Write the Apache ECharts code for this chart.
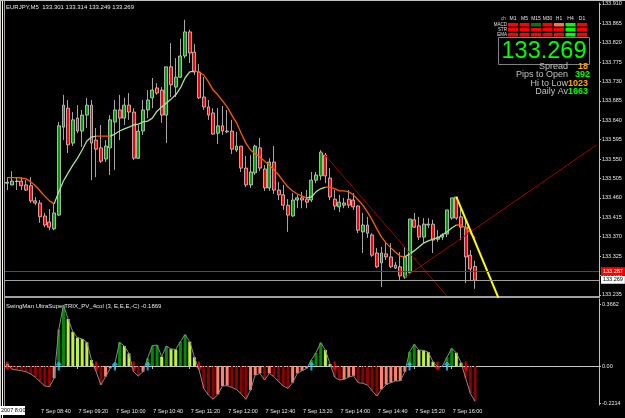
<!DOCTYPE html>
<html>
<head>
<meta charset="utf-8">
<script src="https://cdn.jsdelivr.net/npm/echarts@6/dist/echarts.min.js"></script>
<style>
html,body{margin:0;padding:0;background:#000;}
#main{width:625px;height:418px;}
</style>
</head>
<body>
<div id="main"></div>
<script>
// EURJPY M5, bars from 08:05, one every 5 minutes
var opens = [133.494,133.490,133.498,133.499,133.490,133.488,133.453,133.448,133.418,133.404,
  133.388,133.420,133.624,133.668,133.587,133.645,133.615,133.652,133.675,133.594,
  133.576,133.550,133.576,133.636,133.664,133.645,133.675,133.659,133.552,133.615,
  133.664,133.692,133.715,133.710,133.652,133.764,133.717,133.740,133.789,133.845,
  133.798,133.752,133.694,133.671,133.657,133.610,133.627,133.615,133.615,133.571,
  133.580,133.529,133.490,133.518,133.576,133.527,133.483,133.543,133.478,133.467,
  133.443,133.418,133.455,133.460,133.457,133.455,133.501,133.511,133.559,133.506,
  133.457,133.439,133.443,133.457,133.455,133.441,133.381,133.397,133.374,133.332,
  133.309,133.330,133.323,133.304,133.300,133.276,133.286,133.409,133.395,133.369,
  133.397,133.399,133.364,133.369,133.376,133.413,133.462,133.416,133.392,133.327,
  133.301];
var closes = [133.496,133.499,133.499,133.488,133.478,133.453,133.448,133.416,133.397,133.392,
  133.425,133.627,133.675,133.583,133.641,133.615,133.652,133.675,133.587,133.573,
  133.545,133.580,133.641,133.664,133.645,133.675,133.659,133.552,133.615,133.664,
  133.687,133.710,133.703,133.652,133.764,133.722,133.740,133.789,133.845,133.796,
  133.752,133.692,133.671,133.652,133.608,133.627,133.615,133.613,133.573,133.580,
  133.529,133.490,133.520,133.580,133.529,133.483,133.543,133.478,133.467,133.443,
  133.420,133.455,133.460,133.455,133.450,133.501,133.513,133.566,133.511,133.462,
  133.441,133.450,133.448,133.443,133.439,133.385,133.397,133.378,133.327,133.300,
  133.332,133.323,133.300,133.297,133.279,133.323,133.411,133.392,133.369,133.399,
  133.399,133.362,133.369,133.374,133.432,133.460,133.413,133.392,133.323,133.295,
  133.269];
var lows = [133.478,133.489,133.478,133.478,133.476,133.448,133.443,133.402,133.392,133.385,
  133.385,133.418,133.594,133.564,133.580,133.610,133.578,133.622,133.501,133.508,
  133.541,133.543,133.513,133.525,133.594,133.629,133.641,133.548,133.550,133.606,
  133.645,133.668,133.699,133.634,133.587,133.694,133.694,133.738,133.784,133.773,
  133.745,133.689,133.664,133.641,133.606,133.585,133.606,133.610,133.562,133.566,
  133.520,133.485,133.483,133.513,133.522,133.476,133.476,133.469,133.455,133.432,
  133.381,133.416,133.436,133.436,133.436,133.450,133.494,133.501,133.494,133.455,
  133.432,133.427,133.436,133.436,133.432,133.378,133.332,133.367,133.323,133.297,
  133.253,133.316,133.297,133.295,133.269,133.272,133.283,133.390,133.362,133.355,
  133.390,133.332,133.358,133.362,133.369,133.409,133.409,133.362,133.262,133.269,
  133.249];
var highs = [133.508,133.522,133.506,133.508,133.501,133.508,133.462,133.455,133.425,133.434,
  133.448,133.636,133.699,133.687,133.659,133.675,133.664,133.692,133.687,133.622,
  133.629,133.594,133.652,133.687,133.699,133.692,133.703,133.668,133.629,133.687,
  133.710,133.738,133.726,133.717,133.764,133.819,133.784,133.829,133.873,133.850,
  133.817,133.771,133.740,133.687,133.668,133.668,133.673,133.664,133.641,133.613,
  133.580,133.557,133.559,133.583,133.599,133.536,133.552,133.580,133.497,133.490,
  133.457,133.471,133.467,133.474,133.478,133.520,133.520,133.571,133.564,133.529,
  133.478,133.467,133.460,133.478,133.471,133.443,133.425,133.416,133.378,133.344,
  133.346,133.355,133.355,133.311,133.334,133.346,133.411,133.425,133.416,133.413,
  133.413,133.409,133.385,133.378,133.432,133.460,133.462,133.436,133.413,133.339,
  133.314];
// moving average drawn on the price pane
var ma = [133.507,133.507,133.507,133.506,133.504,133.497,133.488,133.476,133.464,133.453,
  133.446,133.474,133.499,133.518,133.536,133.552,133.571,133.592,133.601,133.603,
  133.603,133.603,133.603,133.608,133.615,133.620,133.624,133.629,133.631,133.636,
  133.638,133.645,133.661,133.671,133.680,133.689,133.699,133.715,133.738,133.752,
  133.754,133.752,133.745,133.729,133.710,133.699,133.685,133.671,133.652,133.634,
  133.610,133.587,133.571,133.562,133.555,133.545,133.536,133.525,133.513,133.499,
  133.485,133.476,133.469,133.464,133.460,133.462,133.474,133.481,133.485,133.485,
  133.481,133.476,133.476,133.474,133.467,133.455,133.443,133.427,133.409,133.388,
  133.369,133.355,133.344,133.334,133.325,133.323,133.330,133.337,133.346,133.355,
  133.360,133.364,133.367,133.374,133.381,133.390,133.397,133.397,133.390,133.378,
  133.367];
// SwingMan UltraSuperTRIX histogram
var trix = [0.014,-0.020,-0.024,-0.028,-0.034,-0.048,-0.067,-0.093,-0.119,-0.123,
  -0.073,0.218,0.363,0.280,0.204,0.169,0.161,0.141,0.036,-0.034,
  -0.113,-0.063,-0.014,0.016,0.141,0.119,0.075,-0.034,-0.060,-0.034,
  0.046,0.121,0.125,0.056,0.119,0.101,0.099,0.145,0.187,0.145,
  0.052,-0.024,-0.133,-0.173,-0.198,-0.169,-0.119,-0.117,-0.127,-0.140,
  -0.165,-0.198,-0.143,-0.054,-0.044,-0.083,-0.044,-0.063,-0.093,-0.119,
  -0.133,-0.099,-0.044,-0.028,-0.014,0.036,0.079,0.139,0.095,0.012,
  -0.067,-0.083,-0.079,-0.066,-0.058,-0.099,-0.103,-0.113,-0.147,-0.179,
  -0.139,-0.111,-0.099,-0.089,-0.088,-0.034,0.085,0.129,0.095,0.093,
  0.083,0.026,-0.004,-0.002,0.052,0.105,0.079,0.020,-0.073,-0.163,
  -0.210];
var upArrows = [11,23,30,65,86,94];
var downArrows = [0,19,27,41,70,92,98];
// trend lines: [bar index, price]
var trendA = [[67,133.571],[94,133.232]];
var trendB = [[85,133.276],[126,133.583]];
var trendC = [[96,133.462],[105,133.228]];
var askPrice = 133.287;
var bidPrice = 133.269;
var priceTicks = [133.235,133.280,133.325,133.370,133.415,133.460,133.505,133.550,
  133.595,133.640,133.685,133.730,133.775,133.820,133.865,133.910];
var trixTicks = [-0.2214,0,0.3662];

var slots = 127;
var times = [];
for (var i = 0; i < slots; i++) {
  var t = 8 * 60 + 5 + 5 * i;
  var hh = Math.floor(t / 60), mm = t % 60;
  times.push('7 Sep ' + (hh < 10 ? '0' : '') + hh + ':' + (mm < 10 ? '0' : '') + mm);
}

var candles = [];
for (var i = 0; i < opens.length; i++) {
  candles.push([opens[i], closes[i], lows[i], highs[i]]);
}

var maUp = [], maDn = [];
for (var i = 0; i < ma.length; i++) { maUp.push('-'); maDn.push('-'); }
for (var i = 1; i < ma.length; i++) {
  var tgt = ma[i] > ma[i - 1] ? maUp : maDn;
  tgt[i - 1] = ma[i - 1];
  tgt[i] = ma[i];
}

var bars = trix.map(function (v, i) {
  var p = i > 0 ? trix[i - 1] : v;
  var c;
  if (v >= 0) c = (i === 0 || v < p) ? '#c0f040' : '#008c00';
  else c = v <= p ? '#8b0000' : '#ff7f6a';
  return { value: v, itemStyle: { color: c } };
});

var showLabel = function (idx) {
  return idx >= 7 && idx <= 100 && (idx - 7) % 8 === 0;
};

var fontF = '"Liberation Sans", Arial, sans-serif';
var upPath = 'path://M5 0 L10 5 L6.5 5 L6.5 12 L3.5 12 L3.5 5 L0 5 Z';

// small status table in the corner
var tfs = ['M1', 'M5', 'M15', 'M30', 'H1', 'H4', 'D1'];
var rowNames = ['MACD', 'STR', 'EMA'];
var cellColors = [
  ['#ff0000', '#ff0000', '#007a00', '#ff0000', '#ff7050', '#00ff00', '#ff0000'],
  ['#ff0000', '#ff0000', '#ff0000', '#ff0000', '#ff0000', '#00ff00', '#ff0000'],
  ['#ff0000', '#ff0000', '#ff0000', '#ff0000', '#ff0000', '#00ff00', '#ff0000']
];
var graphics = [
  { type: 'rect', shape: { x: 0, y: 0, width: 1, height: 418 }, style: { fill: '#d4d0c8' } },
  { type: 'rect', shape: { x: 2, y: 0, width: 1, height: 418 }, style: { fill: '#ffffff' } },
  { type: 'rect', shape: { x: 4, y: 0, width: 1, height: 406 }, style: { fill: '#a0a0a0' } },
  { type: 'rect', shape: { x: 0, y: 0, width: 625, height: 1 }, style: { fill: '#c0c0c0' } },
  { type: 'rect', shape: { x: 5, y: 296, width: 595, height: 2 }, style: { fill: '#a0a0a0' } },
  { type: 'text', x: 6, y: 4, style: { text: 'EURJPY,M5  133.301 133.314 133.249 133.269', fill: '#e8e8e8', font: '6px ' + fontF } },
  { type: 'text', x: 6, y: 303, style: { text: 'SwingMan UltraSuperTRIX_PV_4col (3, E,E,E,-C) -0.1869', fill: '#e8e8e8', font: '6px ' + fontF } },
  { type: 'rect', shape: { x: 0, y: 406, width: 25, height: 9 }, style: { fill: '#ffffff' } },
  { type: 'text', x: 1, y: 407.5, style: { text: '2007 8:00', fill: '#000', font: '5.5px ' + fontF } },
  { type: 'rect', shape: { x: 498.5, y: 37.5, width: 91, height: 27 }, style: { fill: 'none', stroke: '#808080', lineWidth: 1 } },
  { type: 'text', x: 544, y: 51.5, style: { text: '133.269', fill: '#00ff00', font: '23.5px ' + fontF, textAlign: 'center', textVerticalAlign: 'middle' } },
  { type: 'text', x: 501, y: 19, style: { text: 'ch', fill: '#c0c0c0', font: '4.5px ' + fontF, textVerticalAlign: 'middle' } }
];
tfs.forEach(function (tf, k) {
  graphics.push({ type: 'text', x: 513 + k * 11.5, y: 19, style: { text: tf, fill: '#e0e0e0', font: '5px ' + fontF, textAlign: 'center', textVerticalAlign: 'middle' } });
});
rowNames.forEach(function (rn, r) {
  graphics.push({ type: 'text', x: 507, y: 24.5 + r * 5, style: { text: rn, fill: '#e0e0e0', font: '4.5px ' + fontF, textAlign: 'right', textVerticalAlign: 'middle' } });
  cellColors[r].forEach(function (c, k) {
    graphics.push({ type: 'rect', shape: { x: 508 + k * 11.5, y: 23 + r * 5, width: 10, height: 3.5 }, style: { fill: c } });
  });
});
var infoRows = [
  ['Spread', '18', '#ffa500', 66.5, 578],
  ['Pips to Open', '392', '#00ff00', 75, 575],
  ['Hi to Low', '1023', '#ffa500', 83.5, 568],
  ['Daily Av', '1663', '#00ff00', 92, 568]
];
infoRows.forEach(function (r) {
  graphics.push({ type: 'text', x: 568, y: r[3], style: { text: r[0], fill: '#c0c0c0', font: '9px ' + fontF, textAlign: 'right', textVerticalAlign: 'middle' } });
  graphics.push({ type: 'text', x: r[4], y: r[3], style: { text: r[1], fill: r[2], font: 'bold 9px ' + fontF, textAlign: 'left', textVerticalAlign: 'middle' } });
});

var chart = echarts.init(document.getElementById('main'));
var option = {
  backgroundColor: '#000000',
  animation: false,
  textStyle: { fontFamily: fontF },
  grid: [
    { left: 5, right: 26, top: 3, height: 294 },
    { left: 5, right: 26, top: 299, height: 106 }
  ],
  xAxis: [
    {
      type: 'category', gridIndex: 0, data: times, boundaryGap: true,
      axisLine: { show: false }, axisTick: { show: false }, axisLabel: { show: false },
      splitLine: { show: false }
    },
    {
      type: 'category', gridIndex: 1, data: times, boundaryGap: true,
      axisLine: { show: true, lineStyle: { color: '#c0c0c0', width: 1 } },
      axisTick: { show: true, alignWithLabel: true, interval: showLabel, length: 3, lineStyle: { color: '#c0c0c0' } },
      axisLabel: { show: true, interval: showLabel, color: '#e8e8e8', fontSize: 5.5, align: 'left', margin: 3, padding: [0, 0, 0, 1] },
      splitLine: { show: false }
    }
  ],
  yAxis: [
    {
      type: 'value', gridIndex: 0, position: 'right', min: 133.230, max: 133.912, scale: true,
      axisLine: { show: true, lineStyle: { color: '#c0c0c0' } },
      axisTick: { show: true, length: 2, customValues: priceTicks, lineStyle: { color: '#c0c0c0' } },
      axisLabel: { show: true, customValues: priceTicks, color: '#e8e8e8', fontSize: 5.5, margin: 3,
        formatter: function (v) { return v.toFixed(3); } },
      splitLine: { show: false }
    },
    {
      type: 'value', gridIndex: 1, position: 'right', min: -0.232, max: 0.399,
      axisLine: { show: true, lineStyle: { color: '#c0c0c0' } },
      axisTick: { show: true, length: 2, customValues: trixTicks, lineStyle: { color: '#c0c0c0' } },
      axisLabel: { show: true, customValues: trixTicks, color: '#e8e8e8', fontSize: 5.5, margin: 3,
        formatter: function (v) { return v === 0 ? '0.00' : v.toFixed(4); } },
      splitLine: { show: false }
    }
  ],
  series: [
    {
      name: 'EURJPY', type: 'candlestick', xAxisIndex: 0, yAxisIndex: 0, data: candles,
      barWidth: 3.4,
      itemStyle: { color: '#00a000', color0: '#ff0000', borderColor: '#d0d0d0', borderColor0: '#d0d0d0', borderWidth: 0.8 },
      markLine: {
        silent: true, symbol: 'none', animation: false,
        data: [
          { yAxis: askPrice, lineStyle: { color: '#ff0000', type: 'solid', width: 1 },
            label: { position: 'end', distance: 2, formatter: askPrice.toFixed(3), color: '#ffffff', backgroundColor: '#ff0000', fontSize: 5.5, padding: [1, 2] } },
          { yAxis: bidPrice, lineStyle: { color: '#a0a0a0', type: 'solid', width: 1 },
            label: { position: 'end', distance: 2, formatter: bidPrice.toFixed(3), color: '#000000', backgroundColor: '#ffffff', fontSize: 5.5, padding: [1, 2] } }
        ]
      }
    },
    { name: 'ma down', type: 'line', xAxisIndex: 0, yAxisIndex: 0, data: maDn, symbol: 'none', connectNulls: false,
      lineStyle: { color: '#ff5a00', width: 1.3 } },
    { name: 'ma up', type: 'line', xAxisIndex: 0, yAxisIndex: 0, data: maUp, symbol: 'none', connectNulls: false,
      lineStyle: { color: '#a8e0a0', width: 1.3 } },
    { name: 'trend a', type: 'line', xAxisIndex: 0, yAxisIndex: 0, data: trendA, symbol: 'none', clip: true,
      lineStyle: { color: '#a00000', width: 1 } },
    { name: 'trend b', type: 'line', xAxisIndex: 0, yAxisIndex: 0, data: trendB, symbol: 'none', clip: true,
      lineStyle: { color: '#a00000', width: 1 } },
    { name: 'trend c', type: 'line', xAxisIndex: 0, yAxisIndex: 0, data: trendC, symbol: 'none', clip: true,
      lineStyle: { color: '#ffff00', width: 2 } },
    {
      name: 'trix', type: 'bar', xAxisIndex: 1, yAxisIndex: 1, data: bars, barWidth: 3,
      markLine: {
        silent: true, symbol: 'none', animation: false, label: { show: false },
        data: [{ yAxis: 0 }],
        lineStyle: { color: '#d0d0d0', type: [1, 2], width: 1 }
      }
    },
    { name: 'trix line', type: 'line', xAxisIndex: 1, yAxisIndex: 1, data: trix, symbol: 'none',
      lineStyle: { color: '#8a8a8a', width: 1 } },
    { name: 'up', type: 'scatter', xAxisIndex: 1, yAxisIndex: 1,
      data: upArrows.map(function (i) { return [i, 0]; }),
      symbol: upPath, symbolSize: [7, 9], itemStyle: { color: '#1ec8ff' } },
    { name: 'down', type: 'scatter', xAxisIndex: 1, yAxisIndex: 1,
      data: downArrows.map(function (i) { return [i, 0]; }),
      symbol: upPath, symbolRotate: 180, symbolSize: [7, 9], itemStyle: { color: '#ff0000' } }
  ],
  graphic: graphics
};
chart.setOption(option);
</script>
</body>
</html>
